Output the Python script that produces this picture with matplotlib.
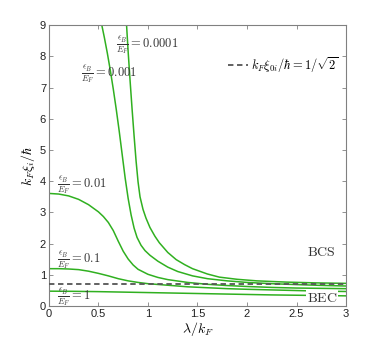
import numpy as np
import matplotlib
matplotlib.use('Agg')
import matplotlib.pyplot as plt

plt.rcParams['mathtext.fontset'] = 'cm'
plt.rcParams['font.family'] = 'Liberation Sans'

x_eb1 = [0, 0.25, 0.5, 0.75, 1.0, 1.25, 1.5, 1.75, 2.0, 2.25, 2.5, 2.75, 3.0]
y_eb1 = [0.48, 0.475, 0.465, 0.45, 0.435, 0.42, 0.405, 0.39, 0.375, 0.36, 0.35, 0.34, 0.33]

x_eb01 = [0, 0.1, 0.2, 0.3, 0.4, 0.5, 0.6, 0.7, 0.8, 0.9, 1.0, 1.2, 1.4, 1.6, 1.8, 2.0, 2.25, 2.5, 2.75, 3.0]
y_eb01 = [1.20, 1.20, 1.19, 1.17, 1.12, 1.05, 0.97, 0.88, 0.81, 0.76, 0.72, 0.67, 0.62, 0.59, 0.56, 0.54, 0.52, 0.50, 0.48, 0.47]

x_eb001 = [0, 0.1, 0.2, 0.3, 0.4, 0.5, 0.55, 0.6, 0.65, 0.7, 0.75, 0.8, 0.85, 0.9, 1.0, 1.1, 1.2, 1.4, 1.6, 1.8, 2.0, 2.25, 2.5, 2.75, 3.0]
y_eb001 = [3.61, 3.59, 3.53, 3.42, 3.25, 3.02, 2.87, 2.68, 2.42, 2.08, 1.76, 1.51, 1.32, 1.18, 1.02, 0.92, 0.85, 0.76, 0.70, 0.66, 0.63, 0.60, 0.58, 0.57, 0.56]

x_eb0001 = [0.534, 0.56, 0.59, 0.62, 0.65, 0.68, 0.71, 0.74, 0.77, 0.80, 0.83, 0.86, 0.89, 0.93, 0.97, 1.02, 1.1, 1.2, 1.3, 1.45, 1.6, 1.8, 2.0, 2.25, 2.5, 2.75, 3.0]
y_eb0001 = [9.0, 8.6, 8.1, 7.55, 6.95, 6.3, 5.6, 4.85, 4.1, 3.45, 2.92, 2.5, 2.2, 1.95, 1.78, 1.63, 1.44, 1.25, 1.11, 0.97, 0.88, 0.81, 0.76, 0.72, 0.69, 0.665, 0.645]

x_eb00001 = [0.784, 0.80, 0.82, 0.84, 0.86, 0.88, 0.90, 0.92, 0.95, 0.98, 1.02, 1.07, 1.115, 1.2, 1.285, 1.37, 1.45, 1.6, 1.72, 1.9, 2.1, 2.4, 2.7, 3.0]
y_eb00001 = [9.0, 8.15, 7.2, 6.3, 5.45, 4.65, 3.98, 3.5, 3.1, 2.82, 2.52, 2.24, 2.03, 1.72, 1.49, 1.33, 1.2, 1.03, 0.93, 0.86, 0.81, 0.77, 0.745, 0.73]

xi0 = 1 / np.sqrt(2)

vert = '#30b020'
gris = '#808080'

fig = plt.figure(figsize=(3.82, 3.44), dpi=100)
ax = fig.add_axes([0.128, 0.110, 0.778, 0.817])

for xs, ys in [(x_eb1, y_eb1), (x_eb01, y_eb01), (x_eb001, y_eb001),
               (x_eb0001, y_eb0001), (x_eb00001, y_eb00001)]:
    ax.plot(xs, ys, color=vert, lw=1.1, zorder=2)

ax.axhline(xi0, color='#555555', ls='--', lw=1.3, dashes=(3, 2),
           label=r'$k_F\xi_{0i}/\hbar = 1/\sqrt{2}$', zorder=3)

ax.set_xlim(0, 3)
ax.set_ylim(0, 9)
ax.set_xticks([0, 0.5, 1, 1.5, 2, 2.5, 3])
ax.set_xticklabels(['0', '0.5', '1', '1.5', '2', '2.5', '3'])
ax.set_yticks(range(10))
ax.tick_params(direction='in', top=True, right=True, length=3, width=0.6,
               colors=gris, labelcolor='#222222', labelsize=8, pad=2)
for s in ax.spines.values():
    s.set_color(gris)
    s.set_linewidth(0.8)

ax.set_xlabel(r'$\lambda/k_F$', fontsize=10, labelpad=1)
ax.set_ylabel(r'$k_F\xi_i/\hbar$', fontsize=10, labelpad=2)

# etiquettes des courbes
fs = 9
coul_txt = '#333333'
ax.text(0.68, 8.33, r'$\frac{\epsilon_B}{E_F} = 0.0001$', fontsize=fs, va='center', color=coul_txt)
ax.text(0.32, 7.42, r'$\frac{\epsilon_B}{E_F} = 0.001$', fontsize=fs, va='center', color=coul_txt)
ax.text(0.08, 3.86, r'$\frac{\epsilon_B}{E_F} = 0.01$', fontsize=fs, va='center', color=coul_txt)
ax.text(0.08, 1.44, r'$\frac{\epsilon_B}{E_F} = 0.1$', fontsize=fs, va='center', color=coul_txt)
ax.text(0.08, 0.27, r'$\frac{\epsilon_B}{E_F} = 1$', fontsize=fs, va='center', color=coul_txt)

ax.text(2.75, 1.74, r'$\mathrm{BCS}$', fontsize=10, ha='center', va='center', color=coul_txt)
ax.text(2.76, 0.27, r'$\mathrm{BEC}$', fontsize=10, ha='center', va='center', color=coul_txt,
        bbox=dict(facecolor='white', edgecolor='none', pad=0.5), zorder=4)

ax.legend(loc='upper right', bbox_to_anchor=(1.0, 0.92), frameon=False, fontsize=9,
          handlelength=1.6, handletextpad=0.2, borderaxespad=0.2)

fig.savefig('out.png', dpi=100)
